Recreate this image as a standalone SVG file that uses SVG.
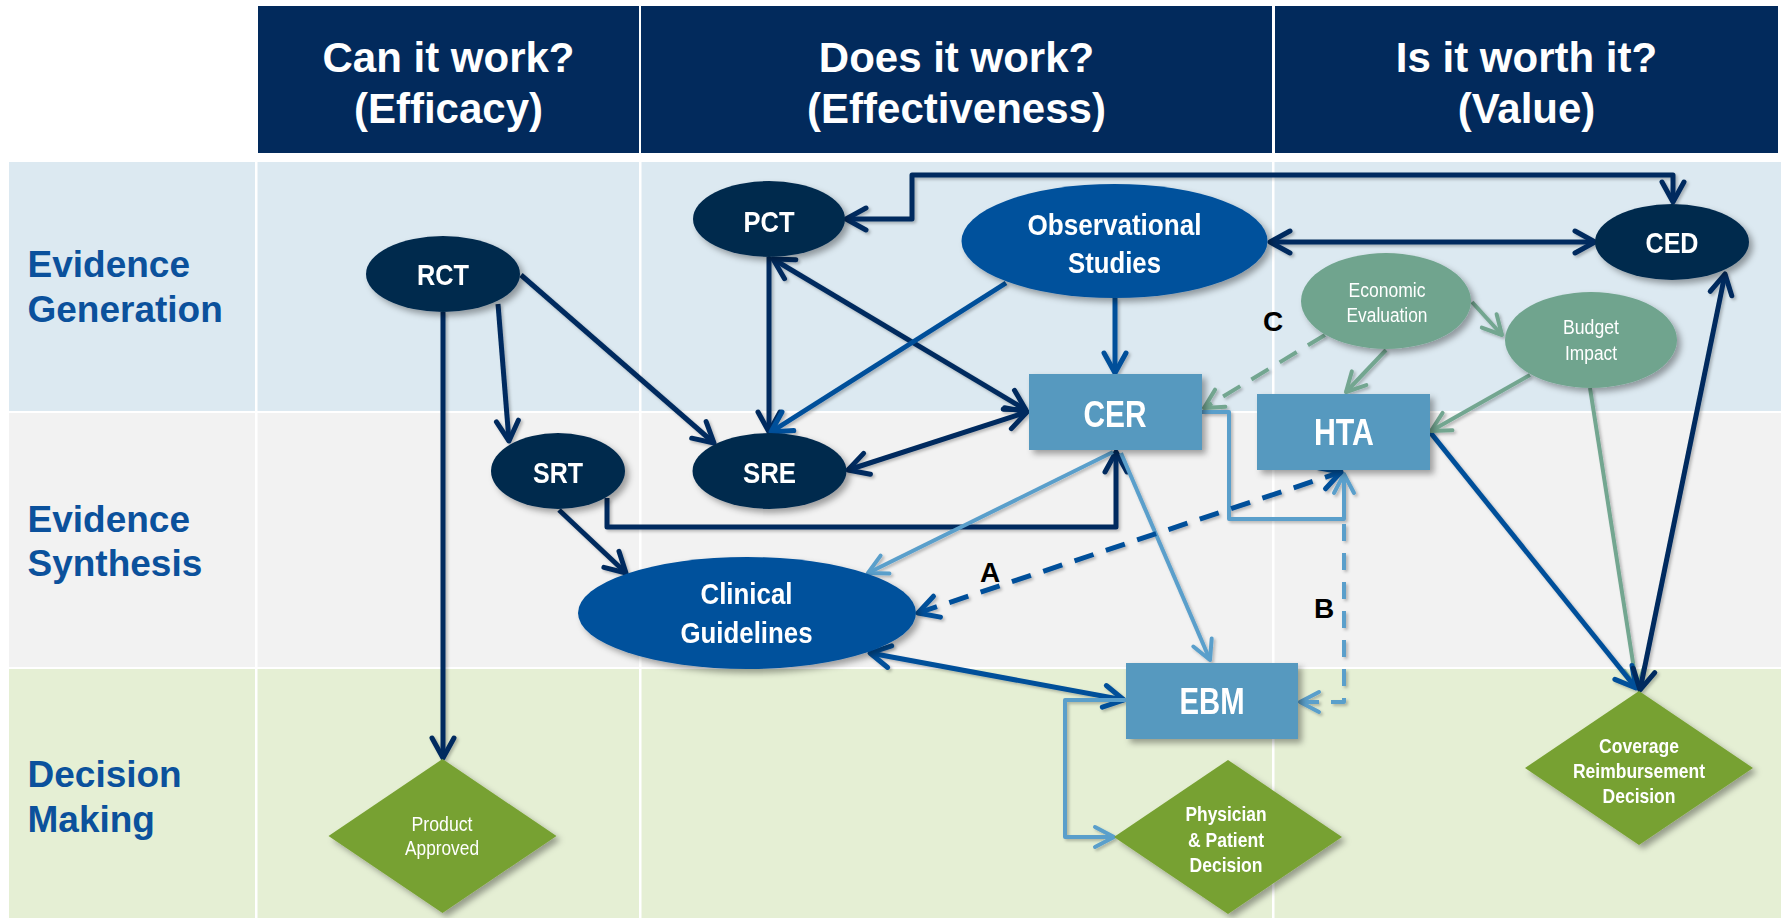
<svg xmlns="http://www.w3.org/2000/svg" width="1781" height="918" viewBox="0 0 1781 918">
<style>
.hdr{font-family:"Liberation Sans",Arial,sans-serif;font-weight:bold;font-size:42px;fill:#fff;text-anchor:middle}
.row{font-family:"Liberation Sans",Arial,sans-serif;font-weight:bold;font-size:37px;fill:#0b519c}
.nb{font-family:"Liberation Sans Narrow","Liberation Sans",Arial,sans-serif;font-weight:bold;fill:#fff;text-anchor:middle}
.nr{font-family:"Liberation Sans Narrow","Liberation Sans",Arial,sans-serif;font-weight:normal;fill:#fff;text-anchor:middle}
.lbl{font-family:"Liberation Sans",Arial,sans-serif;font-weight:bold;font-size:28px;fill:#000;text-anchor:middle}
.navy{fill:#012a4e}
.blue{fill:#03519c}
.lblue{fill:#5699bf}
.green{fill:#70a48e}
.dia{fill:#77a132}
.c{fill:none;stroke-linejoin:round}
.cn{stroke:#032c5e;stroke-width:5}
.cb{stroke:#06509a;stroke-width:5}
.cl{stroke:#5a9fcb;stroke-width:4}
.cg{stroke:#73a690;stroke-width:4}
.dA{stroke-dasharray:20 13}
.dB{stroke-dasharray:17 12}
</style>
<defs>
<filter id="sh" x="-20%" y="-20%" width="150%" height="150%">
<feDropShadow dx="4" dy="4" stdDeviation="3" flood-color="#000" flood-opacity="0.35"/>
</filter>
<filter id="shl" x="-5%" y="-5%" width="110%" height="110%">
<feDropShadow dx="2" dy="2" stdDeviation="1.5" flood-color="#000" flood-opacity="0.25"/>
</filter>
<marker id="mN" markerUnits="userSpaceOnUse" viewBox="-26 -16 30 32" markerWidth="30" markerHeight="32" refX="0" refY="0" orient="auto-start-reverse" overflow="visible">
<path d="M-20,-11 L0,0 L-20,11" fill="none" stroke="#032c5e" stroke-width="5" stroke-linecap="round" stroke-linejoin="round"/>
</marker>
<marker id="mB" markerUnits="userSpaceOnUse" viewBox="-26 -16 30 32" markerWidth="30" markerHeight="32" refX="0" refY="0" orient="auto-start-reverse" overflow="visible">
<path d="M-20,-11 L0,0 L-20,11" fill="none" stroke="#06509a" stroke-width="5" stroke-linecap="round" stroke-linejoin="round"/>
</marker>
<marker id="mL" markerUnits="userSpaceOnUse" viewBox="-26 -16 30 32" markerWidth="30" markerHeight="32" refX="0" refY="0" orient="auto-start-reverse" overflow="visible">
<path d="M-19,-10 L0,0 L-19,10" fill="none" stroke="#5a9fcb" stroke-width="4" stroke-linecap="round" stroke-linejoin="round"/>
</marker>
<marker id="mG" markerUnits="userSpaceOnUse" viewBox="-26 -16 30 32" markerWidth="30" markerHeight="32" refX="0" refY="0" orient="auto-start-reverse" overflow="visible">
<path d="M-19,-10 L0,0 L-19,10" fill="none" stroke="#73a690" stroke-width="4" stroke-linecap="round" stroke-linejoin="round"/>
</marker>
</defs>
<rect x="0" y="0" width="1781" height="918" fill="#fff"/>
<g id="grid">
<rect x="9" y="162" width="1772" height="249" fill="#dce9f1"/>
<rect x="9" y="413" width="1772" height="254" fill="#f2f2f2"/>
<rect x="9" y="669" width="1772" height="249" fill="#e5efd4"/>
<g fill="#fff">
<rect x="255" y="162" width="2.5" height="756"/>
<rect x="639" y="162" width="2.5" height="756"/>
<rect x="1272" y="162" width="2.5" height="756"/>
</g>
</g>
<g id="header">
<rect x="258" y="6" width="381" height="147" fill="#022a5c"/>
<rect x="641" y="6" width="631" height="147" fill="#022a5c"/>
<rect x="1275" y="6" width="503" height="147" fill="#022a5c"/>
<text class="hdr" x="448.5" y="72">Can it work?</text>
<text class="hdr" x="448.5" y="123">(Efficacy)</text>
<text class="hdr" x="956.5" y="72">Does it work?</text>
<text class="hdr" x="956.5" y="123">(Effectiveness)</text>
<text class="hdr" x="1526.5" y="72">Is it worth it?</text>
<text class="hdr" x="1526.5" y="123">(Value)</text>
</g>
<g id="rowlabels">
<text class="row" x="27.5" y="277">Evidence</text>
<text class="row" x="27.5" y="322">Generation</text>
<text class="row" x="27.5" y="532">Evidence</text>
<text class="row" x="27.5" y="576">Synthesis</text>
<text class="row" x="27.5" y="787">Decision</text>
<text class="row" x="27.5" y="832">Making</text>
</g>
<g id="connectors" filter="url(#shl)">
<path class="c cn" d="M443,312 L443,758" marker-end="url(#mN)"/>
<path class="c cn" d="M498,304 L509,441" marker-end="url(#mN)"/>
<path class="c cn" d="M521,275 L714,443" marker-end="url(#mN)"/>
<path class="c cn" d="M769,257 L769,432" marker-end="url(#mN)"/>
<path class="c cn" d="M773,259 L1026,410" marker-start="url(#mN)" marker-end="url(#mN)"/>
<path class="c cb" d="M1006,283 L771,432" marker-end="url(#mB)"/>
<path class="c cb" d="M1115,298 L1115,373" marker-end="url(#mB)"/>
<path class="c cn" d="M848,470 L1027,412" marker-start="url(#mN)" marker-end="url(#mN)"/>
<path class="c cn" d="M846,219 L912,219 L912,175 L1673,175 L1673,202" marker-start="url(#mN)" marker-end="url(#mN)"/>
<path class="c cn" d="M1270,242 L1595,242" marker-start="url(#mN)" marker-end="url(#mN)"/>
<path class="c cn" d="M559,510 L626,573" marker-end="url(#mN)"/>
<path class="c cn" d="M607,498 L607,527 L1116,527 L1116,452" marker-end="url(#mN)"/>
<path class="c cl" d="M1113,452 L868,573" marker-end="url(#mL)"/>
<path class="c cl" d="M1121,453 L1210,660" marker-end="url(#mL)"/>
<path class="c cl" d="M1202,412 L1229,412 L1229,519 L1344,519 L1344,474" marker-end="url(#mL)"/>
<path class="c cl dB" d="M1344,524 L1344,702 L1300,702" marker-end="url(#mL)"/>
<path class="c cb dA" d="M918,613 L1341,472" marker-start="url(#mB)" marker-end="url(#mB)"/>
<path class="c cb" d="M870,653 L1124,700" marker-start="url(#mB)" marker-end="url(#mB)"/>
<path class="c cl" d="M1126,700 L1065,700 L1065,837 L1114,837" marker-end="url(#mL)"/>
<path class="c cg" d="M1590,388 L1637,688" marker-end="url(#mG)"/>
<path class="c cb" d="M1430,432 L1636,688" marker-end="url(#mB)"/>
<path class="c cn" d="M1640,690 L1725,274" marker-start="url(#mN)" marker-end="url(#mN)"/>
<path class="c cg" d="M1386,350 L1346,392" marker-end="url(#mG)"/>
<path class="c cg" d="M1472,302 L1502,335" marker-end="url(#mG)"/>
<path class="c cg" d="M1530,375 L1431,431" marker-end="url(#mG)"/>
<path class="c cg dA" d="M1325,335 L1204,408" marker-end="url(#mG)"/>
</g>
<g id="edge-labels">
<text class="lbl" x="990" y="582">A</text>
<text class="lbl" x="1324" y="618">B</text>
<text class="lbl" x="1273" y="331">C</text>
</g>
<g id="node-rct" filter="url(#sh)">
<ellipse class="navy" cx="443" cy="274" rx="77" ry="38"/>
<text class="nb" x="443" y="285" font-size="30" textLength="52" lengthAdjust="spacingAndGlyphs">RCT</text>
</g>
<g id="node-pct" filter="url(#sh)">
<ellipse class="navy" cx="769" cy="219" rx="76" ry="38"/>
<text class="nb" x="769" y="232" font-size="30" textLength="51" lengthAdjust="spacingAndGlyphs">PCT</text>
</g>
<g id="node-ced" filter="url(#sh)">
<ellipse class="navy" cx="1672" cy="242" rx="77" ry="38"/>
<text class="nb" x="1672" y="253" font-size="30" textLength="53" lengthAdjust="spacingAndGlyphs">CED</text>
</g>
<g id="node-srt" filter="url(#sh)">
<ellipse class="navy" cx="558" cy="471" rx="67" ry="38"/>
<text class="nb" x="558" y="483" font-size="30" textLength="50" lengthAdjust="spacingAndGlyphs">SRT</text>
</g>
<g id="node-sre" filter="url(#sh)">
<ellipse class="navy" cx="769.5" cy="471" rx="77" ry="38"/>
<text class="nb" x="769.5" y="483" font-size="30" textLength="53" lengthAdjust="spacingAndGlyphs">SRE</text>
</g>
<g id="node-obs" filter="url(#sh)">
<ellipse class="blue" cx="1114.5" cy="241" rx="153" ry="57"/>
<text class="nb" x="1114.5" y="235" font-size="30" textLength="174" lengthAdjust="spacingAndGlyphs">Observational</text>
<text class="nb" x="1114.5" y="273" font-size="30" textLength="93" lengthAdjust="spacingAndGlyphs">Studies</text>
</g>
<g id="node-clinical" filter="url(#sh)">
<ellipse class="blue" cx="747" cy="613" rx="169" ry="56"/>
<text class="nb" x="746.5" y="604" font-size="30" textLength="92" lengthAdjust="spacingAndGlyphs">Clinical</text>
<text class="nb" x="746.5" y="643" font-size="30" textLength="132" lengthAdjust="spacingAndGlyphs">Guidelines</text>
</g>
<g id="node-econ" filter="url(#sh)">
<ellipse class="green" cx="1386" cy="301" rx="85" ry="48"/>
<text class="nr" x="1387" y="297" font-size="20" textLength="77" lengthAdjust="spacingAndGlyphs">Economic</text>
<text class="nr" x="1387" y="322" font-size="20" textLength="81" lengthAdjust="spacingAndGlyphs">Evaluation</text>
</g>
<g id="node-budget" filter="url(#sh)">
<ellipse class="green" cx="1591" cy="340" rx="86" ry="48"/>
<text class="nr" x="1591" y="334" font-size="20" textLength="56" lengthAdjust="spacingAndGlyphs">Budget</text>
<text class="nr" x="1591" y="360" font-size="20" textLength="52" lengthAdjust="spacingAndGlyphs">Impact</text>
</g>
<g id="node-cer" filter="url(#sh)">
<rect class="lblue" x="1029" y="374" width="173" height="76"/>
<text class="nb" x="1115" y="427" font-size="36" textLength="63" lengthAdjust="spacingAndGlyphs">CER</text>
</g>
<g id="node-hta" filter="url(#sh)">
<rect class="lblue" x="1257" y="394" width="173" height="76"/>
<text class="nb" x="1344" y="445" font-size="36" textLength="60" lengthAdjust="spacingAndGlyphs">HTA</text>
</g>
<g id="node-ebm" filter="url(#sh)">
<rect class="lblue" x="1126" y="663" width="172" height="76"/>
<text class="nb" x="1212" y="714" font-size="36" textLength="65" lengthAdjust="spacingAndGlyphs">EBM</text>
</g>
<g id="node-product" filter="url(#sh)">
<polygon class="dia" points="442.5,759 556.5,836 442.5,913 328.5,836"/>
<text class="nr" x="442" y="831" font-size="20" textLength="61" lengthAdjust="spacingAndGlyphs">Product</text>
<text class="nr" x="442" y="855" font-size="20" textLength="74" lengthAdjust="spacingAndGlyphs">Approved</text>
</g>
<g id="node-physician" filter="url(#sh)">
<polygon class="dia" points="1228,760 1342,837 1228,914 1114,837"/>
<text class="nb" x="1226" y="821" font-size="20" textLength="81" lengthAdjust="spacingAndGlyphs">Physician</text>
<text class="nb" x="1226" y="847" font-size="20" textLength="76" lengthAdjust="spacingAndGlyphs">&amp; Patient</text>
<text class="nb" x="1226" y="872" font-size="20" textLength="73" lengthAdjust="spacingAndGlyphs">Decision</text>
</g>
<g id="node-coverage" filter="url(#sh)">
<polygon class="dia" points="1639,691 1753,768 1639,845 1525,768"/>
<text class="nb" x="1639" y="753" font-size="20" textLength="80" lengthAdjust="spacingAndGlyphs">Coverage</text>
<text class="nb" x="1639" y="778" font-size="20" textLength="132" lengthAdjust="spacingAndGlyphs">Reimbursement</text>
<text class="nb" x="1639" y="803" font-size="20" textLength="73" lengthAdjust="spacingAndGlyphs">Decision</text>
</g>
</svg>
